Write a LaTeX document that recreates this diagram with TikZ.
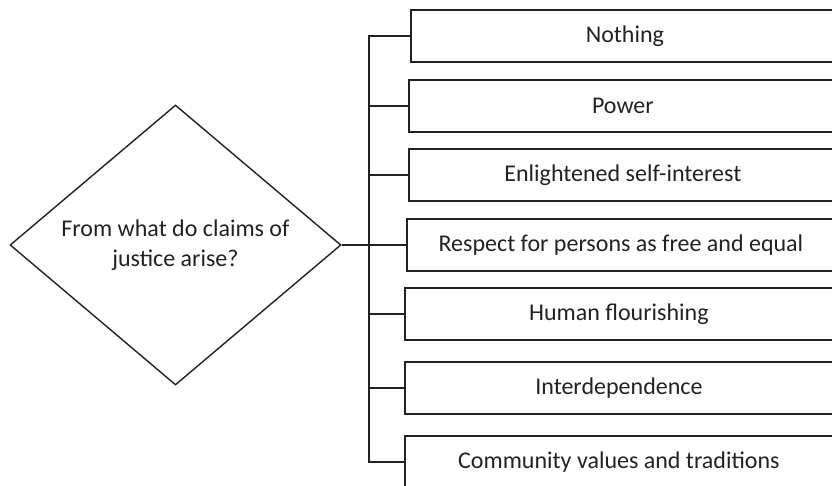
\documentclass[tikz,border=0pt]{standalone}
\usepackage{fontspec}
\setmainfont{Carlito}
\usetikzlibrary{shapes.geometric}
\definecolor{ink}{HTML}{222222}
\begin{document}
\begin{tikzpicture}[x=1pt,y=-1pt,
  every node/.style={font=\fontsize{24}{30}\selectfont, text=ink},
  ansbox/.style={draw=ink, line width=1.8pt, rectangle, anchor=west,
    minimum width=428pt, minimum height=52pt, inner sep=0pt},
  qbox/.style={draw=ink, line width=1.4pt, diamond, minimum width=331pt,
    minimum height=280pt, inner sep=0pt, align=center},
  link/.style={draw=ink, line width=1.8pt}]
\useasboundingbox (0,0) rectangle (832,486);
\node[qbox] (q) at (175.5,245) {From what do claims of\\justice arise?};
\node[ansbox] (b1) at (410,36) {Nothing};
\node[ansbox] (b2) at (408,106) {Power};
\node[ansbox] (b3) at (408,175) {Enlightened self-interest};
\node[ansbox] (b4) at (406,245) {Respect for persons as free and equal};
\node[ansbox] (b5) at (404,314) {Human flourishing};
\node[ansbox] (b6) at (404,388) {Interdependence};
\node[ansbox] (b7) at (404,462) {Community values and traditions};
\coordinate (trunk) at (369,0);
\draw[link] (q.east) -- (b4.west);
\draw[link] (b1.west) -- (trunk |- b1.west) -- (trunk |- b7.west) -- (b7.west);
\foreach \b in {b2,b3,b5,b6}{
  \draw[link] (trunk |- \b.west) -- (\b.west);
}
\end{tikzpicture}
\end{document}
